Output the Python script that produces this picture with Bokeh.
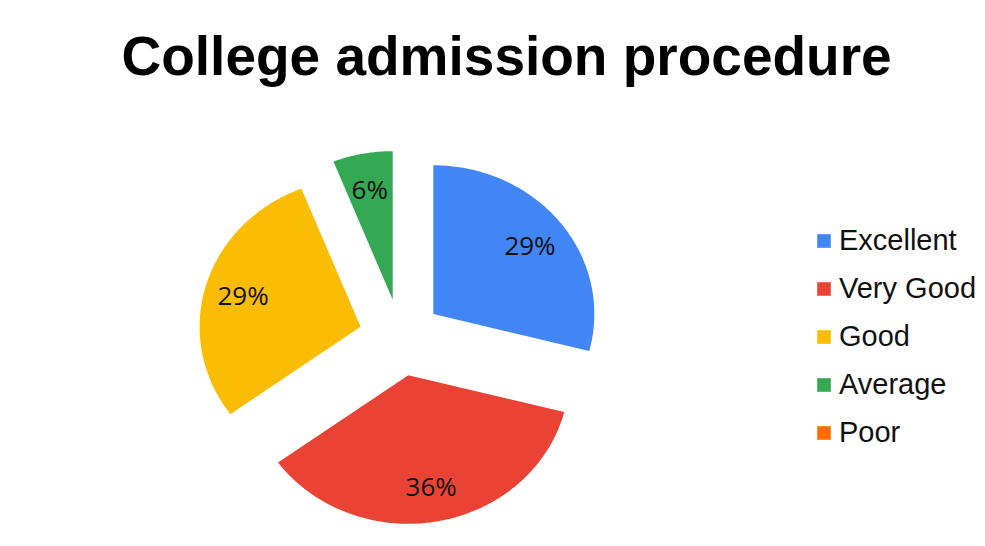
import numpy as np
from bokeh.plotting import figure
from bokeh.models import ColumnDataSource, Range1d, Legend, LegendItem
from bokeh.core.properties import value
from bokeh.embed import file_html
from bokeh.resources import INLINE

# ---- data ----
categories = ["Excellent", "Very Good", "Good", "Average", "Poor"]
shares = [29, 36, 29, 6, 0]
share_labels = ["29%", "36%", "29%", "6%", ""]
colors = ["#4285F4", "#EA4335", "#FBBC04", "#34A853", "#FF6D01"]
title_text = "College admission procedure"

# ---- layout (figure pixels) ----
W, H = 985, 546
TITLE_STANDOFF = 44
TITLE_H = 63 + TITLE_STANDOFF   # height of the title panel
CX, CY = 400, 336.5   # pie centre (figure px)
RX, RY = 161, 149     # pie radii (px)
EXPLODE = 0.258       # explosion distance (fraction of radius)
LABEL_R = 0.76        # label distance from slice apex (fraction of radius)

x_start, x_end = -CX / RX, (W - CX) / RX
y_start, y_end = -(H - CY) / RY, (CY - TITLE_H) / RY

p = figure(width=W, height=H, output_backend="svg", toolbar_location=None,
           x_range=Range1d(x_start, x_end), y_range=Range1d(y_start, y_end),
           x_axis_type=None, y_axis_type=None, min_border=0,
           outline_line_color=None, background_fill_color="white",
           border_fill_color="white")
p.grid.visible = False

p.title.text = title_text
p.title.text_font = "Liberation Sans"
p.title.text_font_style = "bold"
p.title.text_font_size = "55px"
p.title.text_color = "#000000"
p.title.align = "left"
p.title.offset = 121
p.title.standoff = TITLE_STANDOFF

# ---- slices ----
frac = np.array(shares, dtype=float) / sum(shares)
ends = np.cumsum(frac) * 2 * np.pi
starts = ends - frac * 2 * np.pi
xs, ys, lx, ly = [], [], [], []
for s, e in zip(starts, ends):
    mid = (s + e) / 2
    ox, oy = EXPLODE * np.sin(mid), EXPLODE * np.cos(mid)
    t = np.linspace(s, e, max(3, int((e - s) * 80) + 3))
    xs.append(np.concatenate([[ox], ox + np.sin(t)]).tolist())
    ys.append(np.concatenate([[oy], oy + np.cos(t)]).tolist())
    lx.append(ox + LABEL_R * np.sin(mid))
    ly.append(oy + LABEL_R * np.cos(mid))

src = ColumnDataSource(dict(xs=xs, ys=ys, color=colors, cat=categories,
                            lx=lx, ly=ly, lab=share_labels))
r = p.patches("xs", "ys", source=src, fill_color="color", line_color=None)

p.text(x="lx", y="ly", text="lab", source=src, text_align="center",
       text_baseline="middle", text_font=value("Open Sans"),
       text_font_size="26px", text_color="#111111")

# ---- legend ----
items = [LegendItem(label=c, renderers=[r], index=i) for i, c in enumerate(categories)]
legend = Legend(items=items, location=(815, 97), padding=0, margin=0,
                border_line_color=None, background_fill_alpha=0,
                glyph_width=17, glyph_height=17, label_standoff=7,
                label_height=31, spacing=15,
                label_text_font="Liberation Sans", label_text_font_size="29px",
                label_text_color="#111111")
p.add_layout(legend)

open("out.html", "w").write(file_html(p, INLINE))
